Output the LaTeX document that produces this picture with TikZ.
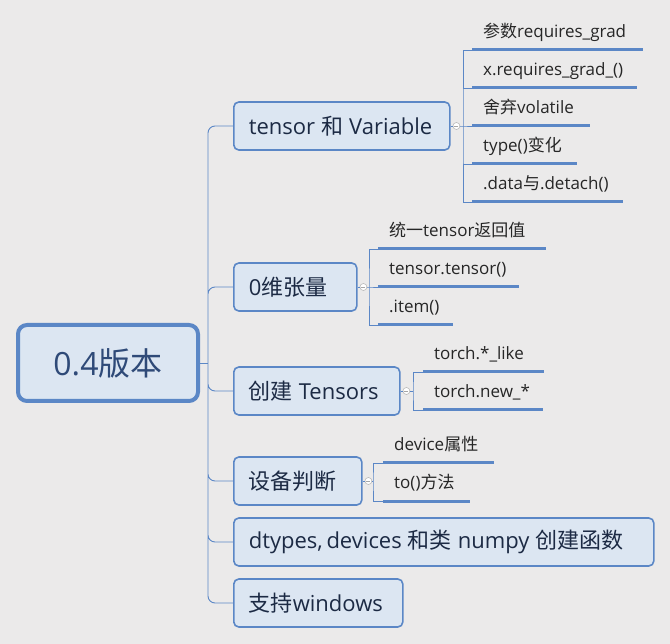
\documentclass[tikz,border=0pt]{standalone}
\usepackage{fontspec}
\setmainfont{Open Sans}
\newfontfamily\cjk{Noto Sans CJK SC}
\newcommand{\zh}[1]{{\cjk #1}}
\newcommand{\gap}{\hspace{6pt}}
\usetikzlibrary{positioning}
\definecolor{edge}{HTML}{5B87C6}
\definecolor{boxfill}{HTML}{DCE6F2}
\definecolor{ink}{HTML}{1C2A44}
\definecolor{rootink}{HTML}{2F4A78}
\definecolor{paper}{HTML}{EBEAEA}

\begin{document}
\begin{tikzpicture}[x=1pt, y=-1pt,
    root/.style = {draw=edge, fill=boxfill, line width=4pt, rounded corners=9pt, minimum width=180pt, minimum height=76pt, text=rootink, font=\fontsize{32}{36}\selectfont},
    topic/.style = {draw=edge, fill=boxfill, line width=1.6pt, rounded corners=5pt, anchor=west, minimum height=48pt, inner xsep=15pt, align=left, text=ink, font=\fontsize{22}{26}\selectfont},
    leaf/.style = {anchor=south west, inner xsep=11pt, inner ysep=8pt, text depth=4pt, align=left, text=black!85, font=\fontsize{17}{20}\selectfont},
    knob/.style = {circle, draw=gray!55, fill=white, minimum size=7pt, inner sep=0pt, line width=0.6pt,
      path picture={\draw[gray!70, line width=0.6pt] ([xshift=-2pt]path picture bounding box.center) -- ([xshift=2pt]path picture bounding box.center);}},
    twig/.style = {draw=edge, line width=0.9pt},
    uline/.style = {draw=edge, line width=3pt}]

    \useasboundingbox (0,0) rectangle (670,644);
    \fill[paper] (0,0) rectangle (670,644);

    % Root and topics
    \node[root] (root) at (108,363) {0.4\zh{版本}};
    \node[topic, text width=186pt] (tv) at (233,126) {\mbox{tensor\gap\zh{和}\gap Variable}};
    \node[topic, text width=93pt] (zero) at (233,287) {0\zh{维张量}};
    \node[topic, text width=136pt] (create) at (233,391) {\mbox{\zh{创建}\gap Tensors}};
    \node[topic, text width=98pt] (dev) at (233,481) {\zh{设备判断}};
    \node[topic, text width=390pt] (dtypes) at (233,542) {\mbox{dtypes,\,devices\gap\zh{和类}\gap numpy\gap\zh{创建函数}}};
    \node[topic, text width=139pt] (win) at (233,603) {\zh{支持}windows};

    % Leaves
    \node[leaf, text width=149pt] (tv1) at (472,50) {\zh{参数}requires\_grad};
    \node[leaf, text width=143pt] (tv2) at (472,88) {x.requires\_grad\_()};
    \node[leaf, text width=96pt] (tv3) at (472,126) {\zh{舍弃}volatile};
    \node[leaf, text width=83pt] (tv4) at (472,164) {type()\zh{变化}};
    \node[leaf, text width=129pt] (tv5) at (472,202) {.data\zh{与}.detach()};

    \node[leaf, text width=146pt] (z1) at (378,249) {\zh{统一}tensor\zh{返回值}};
    \node[leaf, text width=119pt] (z2) at (378,287) {tensor.tensor()};
    \node[leaf, text width=53pt] (z3) at (378,325) {.item()};

    \node[leaf, text width=99pt] (c1) at (423,372) {torch.*\_like};
    \node[leaf, text width=98pt] (c2) at (423,410) {torch.new\_*};

    \node[leaf, text width=89pt] (d1) at (383,463) {device\zh{属性}};
    \node[leaf, text width=65pt] (d2) at (383,501) {to()\zh{方法}};

    % Knobs and bars
    \node[knob, right=2pt of tv] (tvc) {};
    \node[knob, right=2pt of zero] (zeroc) {};
    \node[knob, right=2pt of create] (createc) {};
    \node[knob, right=2pt of dev] (devc) {};
    \coordinate (fork) at (208,363);
    \coordinate (tvbar) at (463,126);
    \coordinate (zerobar) at (369,287);
    \coordinate (createbar) at (413,391);
    \coordinate (devbar) at (373,481);

    % Edges
    \draw[twig] (root.east) -- (fork);
    \draw[twig, rounded corners=7pt] (fork) |- (tv.west) (fork) |- (zero.west) (fork) |- (create.west)
      (fork) |- (dev.west) (fork) |- (dtypes.west) (fork) |- (win.west);

    \draw[twig] (tv) -- (tvc) -- (tvbar) -- (tv3.south west);
    \draw[twig] (tv1.south west) -| (tvbar) |- (tv5.south west);
    \draw[twig] (tv2.south west) -- (tv2.south west -| tvbar) (tv4.south west) -- (tv4.south west -| tvbar);

    \draw[twig] (zero) -- (zeroc) -- (zerobar) -- (z2.south west);
    \draw[twig] (z1.south west) -| (zerobar) |- (z3.south west);

    \draw[twig] (create) -- (createc) -- (createbar);
    \draw[twig] (c1.south west) -| (createbar) |- (c2.south west);

    \draw[twig] (dev) -- (devc) -- (devbar);
    \draw[twig] (d1.south west) -| (devbar) |- (d2.south west);

    % Underlines
    \draw[uline] (tv1.south west) -- (tv1.south east) (tv2.south west) -- (tv2.south east)
      (tv3.south west) -- (tv3.south east) (tv4.south west) -- (tv4.south east) (tv5.south west) -- (tv5.south east);
    \draw[uline] (z1.south west) -- (z1.south east) (z2.south west) -- (z2.south east) (z3.south west) -- (z3.south east);
    \draw[uline] (c1.south west) -- (c1.south east) (c2.south west) -- (c2.south east);
    \draw[uline] (d1.south west) -- (d1.south east) (d2.south west) -- (d2.south east);

\end{tikzpicture}
\end{document}
